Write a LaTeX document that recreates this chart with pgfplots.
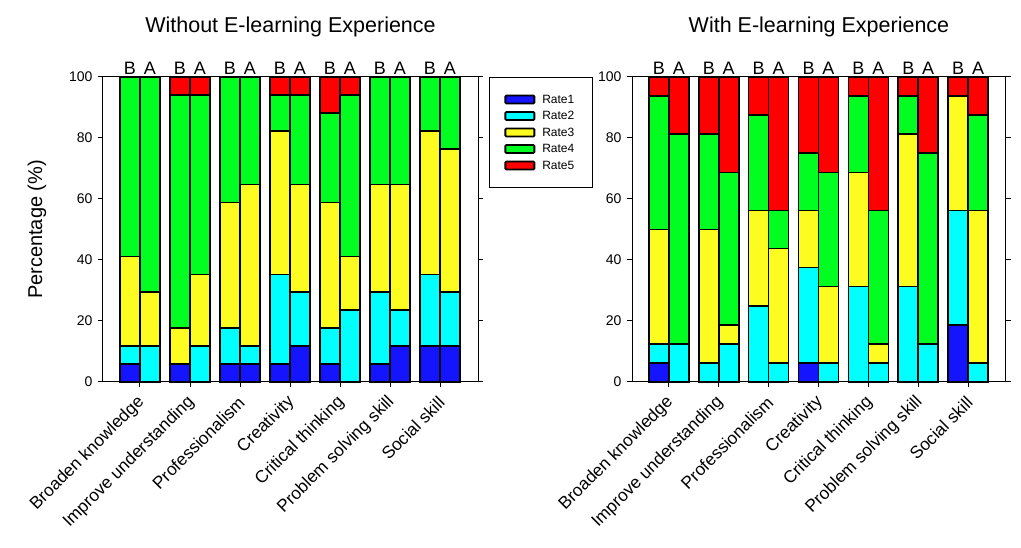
\documentclass[border=0pt]{standalone}
\usepackage{fontspec}
\setmainfont{Liberation Sans}
\usepackage{pgfplots}
\usepackage{pgfplotstable}
\pgfplotsset{compat=1.18}
\definecolor{cR1}{RGB}{20,20,255}
\definecolor{cR2}{RGB}{0,255,255}
\definecolor{cR3}{RGB}{252,252,32}
\definecolor{cR4}{RGB}{0,255,32}
\definecolor{cR5}{RGB}{255,0,0}

\pgfplotstableread{
x r1 r2 r3 r4 r5
0.8 5.88 5.88 29.41 58.82 0
1.2 0 11.76 17.65 70.59 0
1.8 5.88 0 11.76 76.47 5.88
2.2 0 11.76 23.53 58.82 5.88
2.8 5.88 11.76 41.18 41.18 0
3.2 5.88 5.88 52.94 35.29 0
3.8 5.88 29.41 47.06 11.76 5.88
4.2 11.76 17.65 35.29 29.41 5.88
4.8 5.88 11.76 41.18 29.41 11.76
5.2 0 23.53 17.65 52.94 5.88
5.8 5.88 23.53 35.29 35.29 0
6.2 11.76 11.76 41.18 35.29 0
6.8 11.76 23.53 47.06 17.65 0
7.2 11.76 17.65 47.06 23.53 0
}\leftdata

\pgfplotstableread{
x r1 r2 r3 r4 r5
0.8 6.25 6.25 37.5 43.75 6.25
1.2 0 12.5 0 68.75 18.75
1.8 0 6.25 43.75 31.25 18.75
2.2 0 12.5 6.25 50 31.25
2.8 0 25 31.25 31.25 12.5
3.2 0 6.25 37.5 12.5 43.75
3.8 6.25 31.25 18.75 18.75 25
4.2 0 6.25 25 37.5 31.25
4.8 0 31.25 37.5 25 6.25
5.2 0 6.25 6.25 43.75 43.75
5.8 0 31.25 50 12.5 6.25
6.2 0 12.5 0 62.5 25
6.8 18.75 37.5 37.5 0 6.25
7.2 0 6.25 50 31.25 12.5
}\rightdata

\tikzset{balab/.style={anchor=base, yshift=2pt, font=\fontsize{18}{18}\selectfont}}

\pgfplotsset{
  myaxis/.style={
    scale only axis, height=305pt,
    xmin=0.26, xmax=7.76, ymin=0, ymax=100,
    ybar stacked, bar width=20pt,
    clip=false,
    xtick={1,2,3,4,5,6,7},
    xticklabels={Broaden knowledge,Improve understanding,Professionalism,Creativity,Critical thinking,Problem solving skill,Social skill},
    xtick pos=bottom, ytick pos=both, yticklabel pos=left,
    tick align=outside, major tick length=5pt,
    ytick={0,20,40,60,80,100},
    x tick label style={yshift=-10pt, xshift=4pt, rotate=45, anchor=east, font=\fontsize{17.3}{17.3}\selectfont},
    y tick label style={xshift=-2pt, font=\fontsize{14}{14}\selectfont},
    /pgf/number format/assume math mode=true,
    axis line style={line width=1pt},
    tick style={line width=1pt, black},
    every axis plot/.append style={draw=black, line width=1.6pt},
    title style={at={(axis description cs:0.5,1)}, anchor=base, yshift=38pt, font=\fontsize{21.5}{21.5}\selectfont},
    legend image code/.code={\draw[#1, line width=1.8pt, rounded corners=1pt] (0pt,-4pt) rectangle (29pt,4pt);},
  },
}

\begin{document}
\begin{tikzpicture}
\useasboundingbox (0,0) rectangle (1021pt,548pt);

\begin{axis}[myaxis, at={(103pt,166pt)}, anchor=south west, width=375pt,
  title={Without E-learning Experience},
  ylabel={Percentage (\%)},
  ylabel style={at={(axis description cs:-0.176,0.5)}, anchor=center, font=\fontsize{20}{20}\selectfont},
  legend style={at={(1.0293,1)}, anchor=north west, draw=black, line width=1pt,
    font=\fontsize{12}{12}\selectfont, inner xsep=15pt, inner ysep=14pt,
    nodes={text height=9pt, text depth=1pt, inner sep=3pt}, row sep=0.5pt,
    /tikz/every odd column/.append style={column sep=4pt}},
  legend cell align=left,
]
\addplot[fill=cR1] table[x=x,y=r1]{\leftdata};
\addplot[fill=cR2] table[x=x,y=r2]{\leftdata};
\addplot[fill=cR3] table[x=x,y=r3]{\leftdata};
\addplot[fill=cR4] table[x=x,y=r4]{\leftdata};
\addplot[fill=cR5] table[x=x,y=r5]{\leftdata};
\legend{Rate1,Rate2,Rate3,Rate4,Rate5}
\node[balab] at (axis cs:0.8,100) {B};
\node[balab] at (axis cs:1.2,100) {A};
\node[balab] at (axis cs:1.8,100) {B};
\node[balab] at (axis cs:2.2,100) {A};
\node[balab] at (axis cs:2.8,100) {B};
\node[balab] at (axis cs:3.2,100) {A};
\node[balab] at (axis cs:3.8,100) {B};
\node[balab] at (axis cs:4.2,100) {A};
\node[balab] at (axis cs:4.8,100) {B};
\node[balab] at (axis cs:5.2,100) {A};
\node[balab] at (axis cs:5.8,100) {B};
\node[balab] at (axis cs:6.2,100) {A};
\node[balab] at (axis cs:6.8,100) {B};
\node[balab] at (axis cs:7.2,100) {A};
\end{axis}

\begin{axis}[myaxis, at={(632pt,166pt)}, anchor=south west, width=374pt,
  title={With E-learning Experience},
]
\addplot[fill=cR1] table[x=x,y=r1]{\rightdata};
\addplot[fill=cR2] table[x=x,y=r2]{\rightdata};
\addplot[fill=cR3] table[x=x,y=r3]{\rightdata};
\addplot[fill=cR4] table[x=x,y=r4]{\rightdata};
\addplot[fill=cR5] table[x=x,y=r5]{\rightdata};
\node[balab] at (axis cs:0.8,100) {B};
\node[balab] at (axis cs:1.2,100) {A};
\node[balab] at (axis cs:1.8,100) {B};
\node[balab] at (axis cs:2.2,100) {A};
\node[balab] at (axis cs:2.8,100) {B};
\node[balab] at (axis cs:3.2,100) {A};
\node[balab] at (axis cs:3.8,100) {B};
\node[balab] at (axis cs:4.2,100) {A};
\node[balab] at (axis cs:4.8,100) {B};
\node[balab] at (axis cs:5.2,100) {A};
\node[balab] at (axis cs:5.8,100) {B};
\node[balab] at (axis cs:6.2,100) {A};
\node[balab] at (axis cs:6.8,100) {B};
\node[balab] at (axis cs:7.2,100) {A};
\end{axis}
\end{tikzpicture}
\end{document}
